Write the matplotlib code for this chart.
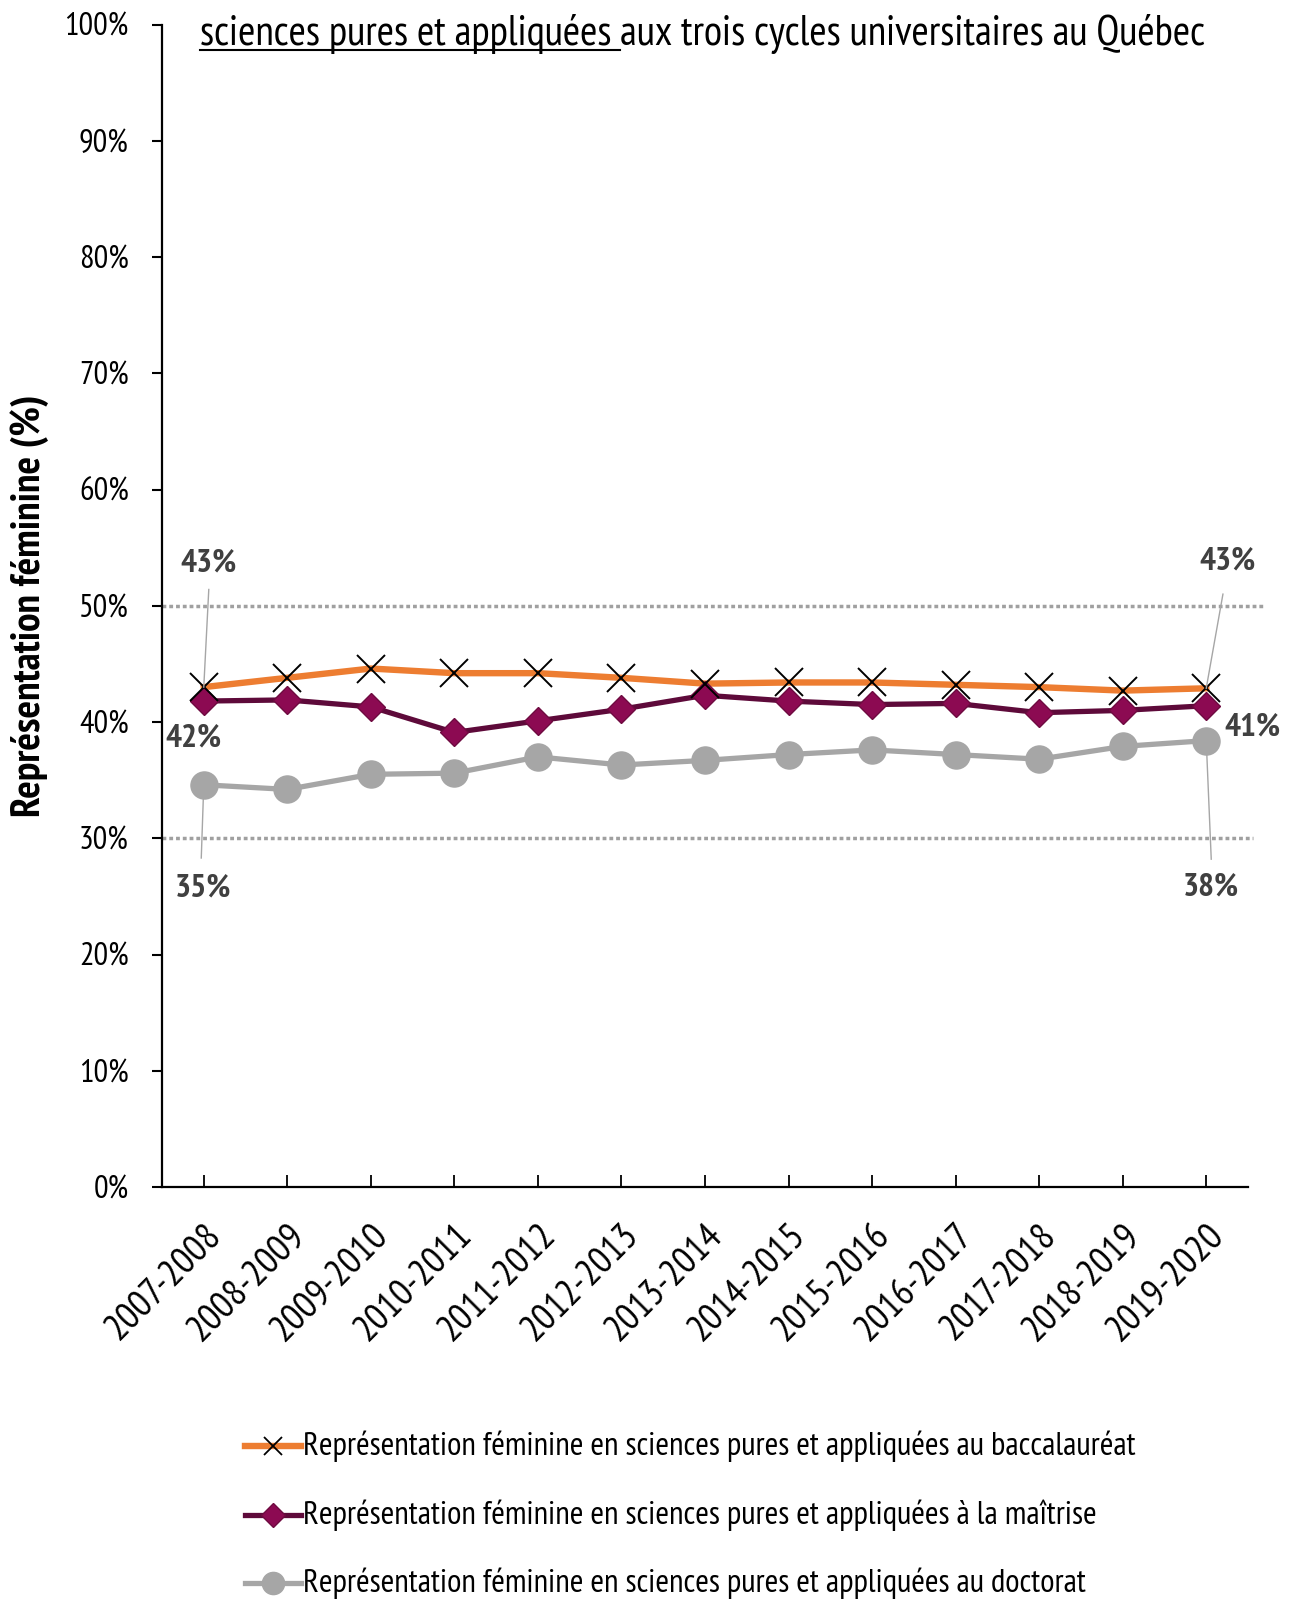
import matplotlib
matplotlib.use("Agg")
import matplotlib.pyplot as plt
from matplotlib import font_manager as fm
from matplotlib.lines import Line2D


def pick_font(candidates):
    for name in candidates:
        try:
            fm.findfont(fm.FontProperties(family=name), fallback_to_default=False)
            return name
        except ValueError:
            continue
    return "DejaVu Sans"


FONT = pick_font(["PT Sans Narrow", "Roboto Condensed", "Fira Sans Condensed",
                  "Open Sans Condensed", "Liberation Sans Narrow", "Roboto"])
plt.rcParams['font.family'] = [FONT, 'DejaVu Sans']

# Academic years
years = ["2007-2008", "2008-2009", "2009-2010", "2010-2011", "2011-2012",
         "2012-2013", "2013-2014", "2014-2015", "2015-2016", "2016-2017",
         "2017-2018", "2018-2019", "2019-2020"]

# Female representation (%) by cycle
baccalaureat = [43.0, 43.8, 44.6, 44.2, 44.2, 43.8, 43.3, 43.4, 43.4, 43.2, 43.0, 42.7, 42.9]
maitrise = [41.8, 41.9, 41.3, 39.1, 40.1, 41.1, 42.3, 41.8, 41.5, 41.6, 40.8, 41.0, 41.4]
doctorat = [34.6, 34.2, 35.5, 35.6, 37.0, 36.3, 36.7, 37.2, 37.6, 37.2, 36.8, 37.9, 38.4]

yticks = [0, 10, 20, 30, 40, 50, 60, 70, 80, 90, 100]
ref_levels = [30, 50]

title_under = "sciences pures et appliquées "
title_rest = "aux trois cycles universitaires au Québec"
ylabel = "Représentation féminine (%)"
legend_labels = [
    "Représentation féminine en sciences pures et appliquées au baccalauréat",
    "Représentation féminine en sciences pures et appliquées à la maîtrise",
    "Représentation féminine en sciences pures et appliquées au doctorat",
]

ORANGE = "#ED7D31"
PLUM_LINE = "#5E0A3A"
PLUM_FACE = "#8C0A52"
PLUM_EDGE = "#6E0A40"
GREY = "#A6A6A6"
DOT_GREY = "#A0A0A0"
LABEL = "#404040"

W, H = 1294, 1602
fig = plt.figure(figsize=(W / 100, H / 100), dpi=100)
renderer = fig.canvas.get_renderer()


def fitted(s, target_px, weight='normal'):
    t = fig.text(0, 0, s, fontsize=20, fontweight=weight)
    w = t.get_window_extent(renderer).width
    t.remove()
    return 20 * target_px / w


FS_YTICK = fitted("100%", 64)
FS_XTICK = fitted("2007-2008", 146)
FS_YLAB = fitted(ylabel, 424, 'bold')
FS_LEG = fitted(legend_labels[0], 829)
FS_TITLE = fitted(title_under + title_rest, 1005)
FS_CALL = fitted("43%", 56, 'bold')

ax = fig.add_axes([162 / W, 1 - 1187 / H, (1248 - 162) / W, (1187 - 24.5) / H])

x = list(range(len(years)))

# reference dotted lines at 50% and 30%
dot = (0, (1.1, 0.85))
ax.plot([-0.5, 12.69], [ref_levels[1]] * 2, color=DOT_GREY, lw=2.5, ls=dot,
        clip_on=False, zorder=1, dash_capstyle='butt')
ax.plot([-0.5, 12.56], [ref_levels[0]] * 2, color=DOT_GREY, lw=2.5, ls=dot,
        clip_on=False, zorder=1, dash_capstyle='butt')

ax.plot(x, doctorat, color=GREY, lw=3.8, marker='o', ms=19.5, mfc=GREY, mec=GREY, zorder=3)
ax.plot(x, baccalaureat, color=ORANGE, lw=4.6, zorder=4)
ax.plot(x, maitrise, color=PLUM_LINE, lw=3.8, marker='D', ms=14, mfc=PLUM_FACE,
        mec=PLUM_EDGE, mew=1.0, zorder=5)
ax.plot(x, baccalaureat, ls='none', marker='x', ms=20, mec='black', mew=1.4, zorder=6)

ax.set_xlim(-0.5, 12.5)
ax.set_ylim(0, 100)
ax.set_yticks(yticks)
ax.set_yticklabels([f"{v}%" for v in yticks], fontsize=FS_YTICK)
ax.set_xticks(x)
ax.set_xticklabels(years, rotation=45, ha='right', va='top', rotation_mode='anchor',
                   fontsize=FS_XTICK)
ax.tick_params(axis='y', direction='out', length=7, width=1.5, pad=17)
ax.tick_params(axis='x', direction='in', length=9, width=1.3, pad=22)
for s in ['top', 'right']:
    ax.spines[s].set_visible(False)
for s in ['left', 'bottom']:
    ax.spines[s].set_linewidth(1.6)

fig.text(30 / W, 1 - 606 / H, ylabel, rotation=90, ha='center', va='center',
         fontsize=FS_YLAB, fontweight='bold')

# value callouts at the first and last year
lab_kw = dict(fontsize=FS_CALL, fontweight='bold', color=LABEL, ha='center', va='center')
ax.text(0.06, 53.6, f"{baccalaureat[0]:.0f}%", **lab_kw)
ax.plot([0.06, 0], [51.4, baccalaureat[0]], color=GREY, lw=1.0, zorder=7)
ax.text(-0.12, 38.6, f"{maitrise[0]:.0f}%", **lab_kw)
ax.text(-0.01, 25.7, f"{round(doctorat[0] + 0.4):.0f}%", **lab_kw)
ax.plot([0, -0.03], [doctorat[0], 28.3], color=GREY, lw=1.0, zorder=2)
ax.text(12.25, 53.8, f"{baccalaureat[-1]:.0f}%", **lab_kw)
ax.plot([12.2, 12], [51.0, baccalaureat[-1]], color=GREY, lw=1.0, zorder=7)
ax.text(12.55, 39.5, f"{maitrise[-1]:.0f}%", clip_on=False, **lab_kw)
ax.text(12.06, 25.8, f"{doctorat[-1]:.0f}%", **lab_kw)
ax.plot([12, 12.06], [doctorat[-1], 28.2], color=GREY, lw=1.0, zorder=2)

# title line with underlined first part
tx0, ty = 200 / W, 1 - 45 / H
t1 = fig.text(tx0, ty, title_under, fontsize=FS_TITLE, ha='left', va='baseline')
w1 = t1.get_window_extent(renderer).width / W
fig.text(tx0 + w1, ty, title_rest, fontsize=FS_TITLE, ha='left', va='baseline')
fig.add_artist(Line2D([tx0, tx0 + w1], [1 - 50 / H] * 2, color='black', lw=1.5,
                      transform=fig.transFigure))

# legend rows
rows_y = [1446, 1515, 1583]
line_styles = [
    dict(color=ORANGE, lw=4.6),
    dict(color=PLUM_LINE, lw=3.8),
    dict(color=GREY, lw=3.8),
]
marker_styles = [
    dict(marker='x', ms=13, mec='black', mew=1.3),
    dict(marker='D', ms=12, mfc=PLUM_FACE, mec=PLUM_EDGE, mew=1.0),
    dict(marker='o', ms=16, mfc=GREY, mec=GREY),
]
for yy, ls_, ms_, lab in zip(rows_y, line_styles, marker_styles, legend_labels):
    yf = 1 - yy / H
    fig.add_artist(Line2D([245 / W, 301 / W], [yf, yf], transform=fig.transFigure, **ls_))
    fig.add_artist(Line2D([273 / W], [yf], transform=fig.transFigure, ls='none', **ms_))
    fig.text(303 / W, yf, lab, fontsize=FS_LEG, ha='left', va='center')

fig.savefig("out.png", dpi=100)
